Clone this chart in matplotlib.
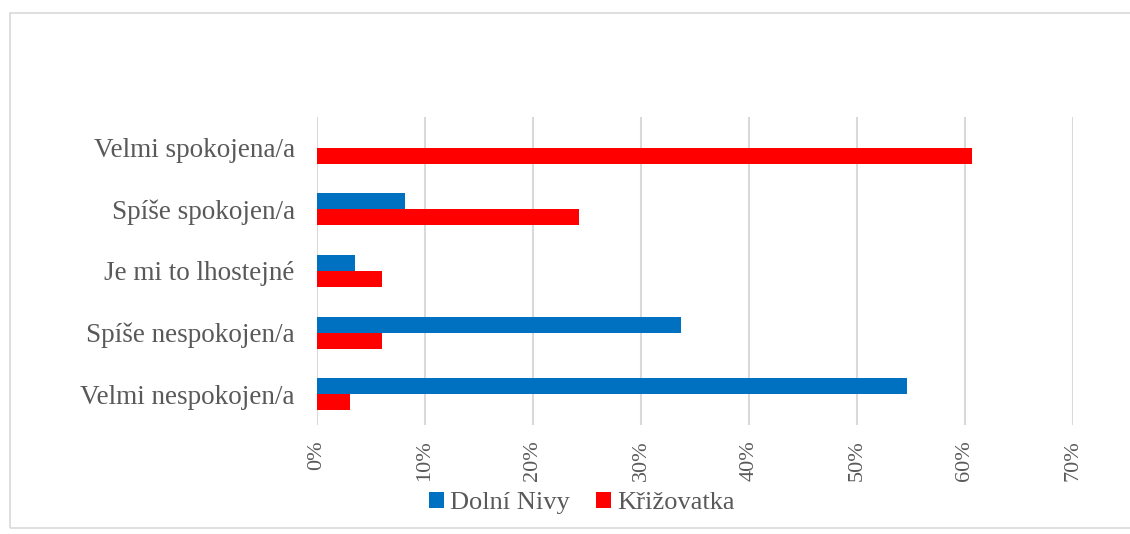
import matplotlib
matplotlib.use("Agg")
import matplotlib.pyplot as plt
import numpy as np
from matplotlib.patches import Rectangle

categories = ["Velmi nespokojen/a", "Spíše nespokojen/a", "Je mi to lhostejné",
              "Spíše spokojen/a", "Velmi spokojena/a"]
dolni_nivy = [54.65, 33.72, 3.49, 8.14, 0.0]
krizovatka = [3.03, 6.06, 6.06, 24.24, 60.61]
series_names = ["Dolní Nivy", "Křižovatka"]
xticks = [0, 10, 20, 30, 40, 50, 60, 70]

plt.rcParams['font.family'] = ['Liberation Serif', 'DejaVu Serif']
W, H = 1130, 534
fig = plt.figure(figsize=(W/100, H/100), dpi=100)
fig.patch.set_facecolor('white')

# chart border
fig.patches.append(Rectangle((10/W, 1-528/H), (W+20)/W, (528-13)/H, transform=fig.transFigure,
                             fill=False, edgecolor='#d9d9d9', linewidth=1.2))

ax = fig.add_axes([317/W, 1-425/H, (1073-317)/W, (425-117)/H])
y = np.arange(len(categories))
h = 0.26
text_color = '#595959'
ax.barh(y + h/2, dolni_nivy, height=h, color='#0070c0', label=series_names[0], zorder=3)
ax.barh(y - h/2, krizovatka, height=h, color='#ff0000', label=series_names[1], zorder=3)
ax.set_ylim(-0.5, len(categories)-0.5)
ax.set_xlim(0, 70)
ax.set_xticks(xticks)
ax.set_xticklabels([f"{t}%" for t in xticks], rotation=90, fontsize=16, color=text_color)
ax.set_yticks(y)
ax.set_yticklabels(categories, fontsize=19.5, color=text_color)
ax.grid(axis='x', color='#d9d9d9', linewidth=1.5, zorder=0)
for s in ax.spines.values():
    s.set_visible(False)
ax.tick_params(length=0)
ax.tick_params(axis='x', pad=11)
ax.tick_params(axis='y', pad=16)

leg = fig.legend(loc='center', bbox_to_anchor=(582/W, 1-503/H), ncol=2, frameon=False,
                 fontsize=19, handlelength=0.55, handleheight=0.55, handletextpad=0.25,
                 columnspacing=1.0, labelcolor=text_color)
fig.savefig("out.png", dpi=100)
